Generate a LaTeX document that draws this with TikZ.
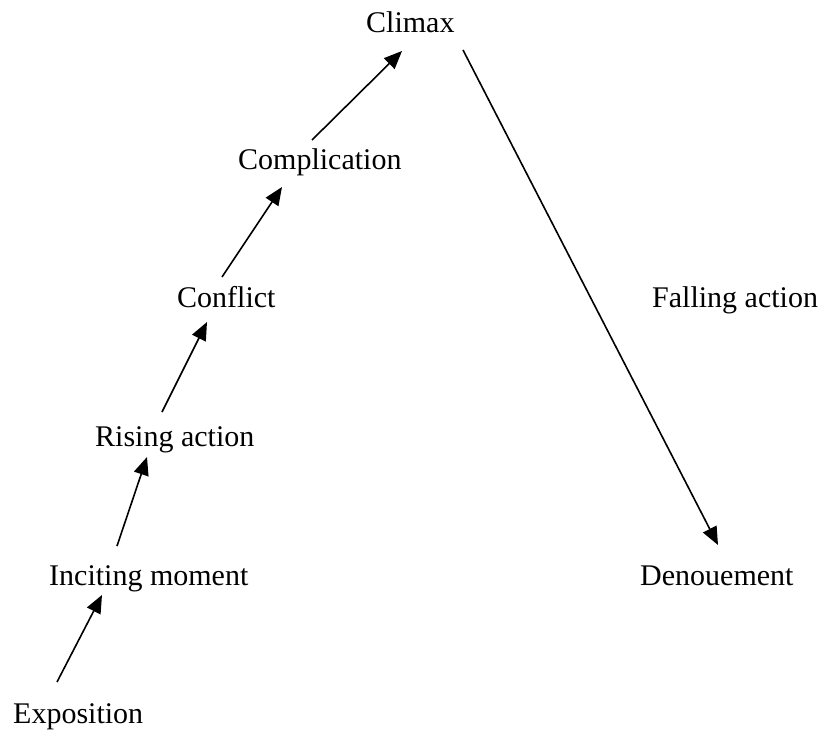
\documentclass[tikz,border=0pt]{standalone}
\usepackage{fontspec}
\setmainfont{Liberation Serif}
\usetikzlibrary{arrows.meta}
\begin{document}
\begin{tikzpicture}[x=1pt,y=-1pt,
  lbl/.style={anchor=base west,inner sep=0pt,font=\fontsize{30}{36}\selectfont},
  arr/.style={-{Triangle[length=18pt,width=15pt]},line width=1.6pt}]
\useasboundingbox (0,0) rectangle (823,731);
\node[lbl] (climax) at (366,32) {Climax};
\node[lbl] (compl) at (238,169) {Complication};
\node[lbl] (confl) at (177,307) {Conflict};
\node[lbl] (rising) at (95,446) {Rising action};
\node[lbl] (incit) at (49,585) {Inciting moment};
\node[lbl] (expo) at (13,723) {Exposition};
\node[lbl] (falling) at (652,307) {Falling action};
\node[lbl] (denou) at (640,585) {Denouement};
% connector end points
\coordinate (e1s) at (57,682);  \coordinate (e1t) at (102,595);
\coordinate (e2s) at (117,546); \coordinate (e2t) at (147,457);
\coordinate (e3s) at (162,412); \coordinate (e3t) at (207,322);
\coordinate (e4s) at (222,277); \coordinate (e4t) at (282,187);
\coordinate (e5s) at (312,140); \coordinate (e5t) at (402,51);
\coordinate (e6s) at (463,50);  \coordinate (e6t) at (718,545);
\draw[arr] (e1s) -- (e1t);
\draw[arr] (e2s) -- (e2t);
\draw[arr] (e3s) -- (e3t);
\draw[arr] (e4s) -- (e4t);
\draw[arr] (e5s) -- (e5t);
\draw[arr] (e6s) -- (e6t);
\end{tikzpicture}
\end{document}
